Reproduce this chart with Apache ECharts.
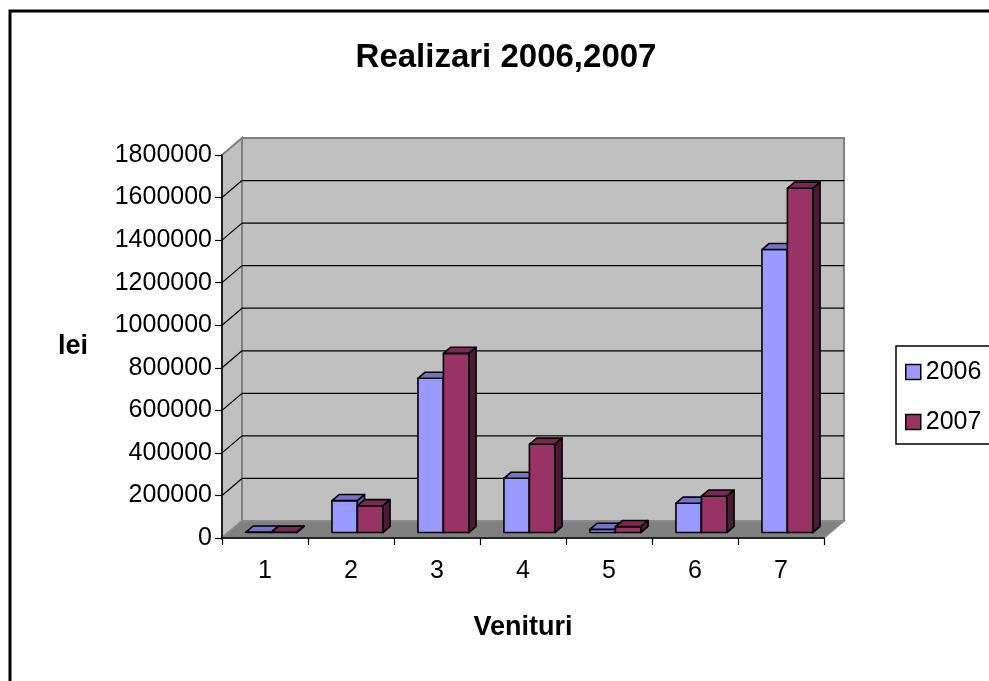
<!DOCTYPE html>
<html>
<head>
<meta charset="utf-8">
<title>Realizari 2006,2007</title>
<script src="https://cdn.jsdelivr.net/npm/echarts@6/dist/echarts.min.js"></script>
<style>
  html, body { margin: 0; padding: 0; background: #fff; }
  #chart { width: 989px; height: 681px; }
</style>
</head>
<body>
<div id="chart"></div>
<script>
const categories = ['1', '2', '3', '4', '5', '6', '7'];
const seriesNames = ['2006', '2007'];
const values2006 = [2000, 150000, 725000, 255000, 15000, 138000, 1330000];
const values2007 = [1500, 126000, 842000, 415000, 28000, 171000, 1618000];
const gridValues = [200000, 400000, 600000, 800000, 1000000, 1200000, 1400000, 1600000];

const FONT = '"Liberation Sans", Arial, sans-serif';
// depth of the 3D floor in pixels
const DX = 20;
const DY = 17;
// bars sit between these depth fractions
const F0 = 0.32;
const F1 = 0.68;

const faceColors = [
  { front: '#9999FF', top: '#7373C8', side: '#5C5C99' },
  { front: '#993366', top: '#7A2952', side: '#4D1A33' },
];

const chart = echarts.init(document.getElementById('chart'));

function renderWalls(params, api) {
  const cs = params.coordSys;
  const x0 = cs.x, x1 = cs.x + cs.width;
  const top = cs.y, bot = cs.y + cs.height;
  const wallStyle = { fill: '#C0C0C0', stroke: '#808080', lineWidth: 2 };
  return {
    type: 'group',
    children: [
      {
        type: 'polygon',
        shape: { points: [[x0 + DX, top - DY], [x1 + DX, top - DY], [x1 + DX, bot - DY], [x0 + DX, bot - DY]] },
        style: wallStyle,
      },
      {
        type: 'polygon',
        shape: { points: [[x0, top], [x0 + DX, top - DY], [x0 + DX, bot - DY], [x0, bot]] },
        style: wallStyle,
      },
      {
        type: 'polygon',
        shape: { points: [[x0, bot], [x0 + DX, bot - DY], [x1 + DX, bot - DY], [x1, bot]] },
        style: { fill: '#808080', stroke: '#8C8C8C', lineWidth: 1.5 },
      },
    ],
  };
}

function renderGridLine(params, api) {
  const cs = params.coordSys;
  const x0 = cs.x, x1 = cs.x + cs.width;
  const y = api.coord([0, api.value(0)])[1];
  const style = { stroke: '#000', lineWidth: 1.2 };
  return {
    type: 'group',
    children: [
      { type: 'line', shape: { x1: x0 + DX, y1: y - DY, x2: x1 + DX, y2: y - DY }, style },
      { type: 'line', shape: { x1: x0, y1: y, x2: x0 + DX, y2: y - DY }, style },
    ],
  };
}

function makeBarRenderer(seriesIdx) {
  const c = faceColors[seriesIdx];
  return function (params, api) {
    const idx = api.value(0);
    const topPt = api.coord([idx, api.value(1)]);
    const basePt = api.coord([idx, 0]);
    const band = api.size([1, 0])[0];
    const w = band * 0.296;
    const xa = topPt[0] - w + seriesIdx * w;
    const xb = xa + w;
    const yt = topPt[1], yb = basePt[1];
    const fx = F0 * DX, fy = F0 * DY, bx = F1 * DX, by = F1 * DY;
    const stroke = { stroke: '#000', lineWidth: 1.6, lineJoin: 'round' };
    return {
      type: 'group',
      children: [
        {
          type: 'polygon',
          shape: { points: [[xa + fx, yt - fy], [xb + fx, yt - fy], [xb + fx, yb - fy], [xa + fx, yb - fy]] },
          style: Object.assign({ fill: c.front }, stroke),
        },
        {
          type: 'polygon',
          shape: { points: [[xa + fx, yt - fy], [xb + fx, yt - fy], [xb + bx, yt - by], [xa + bx, yt - by]] },
          style: Object.assign({ fill: c.top }, stroke),
        },
        {
          type: 'polygon',
          shape: { points: [[xb + fx, yt - fy], [xb + bx, yt - by], [xb + bx, yb - by], [xb + fx, yb - fy]] },
          style: Object.assign({ fill: c.side }, stroke),
        },
      ],
    };
  };
}

const option = {
  animation: false,
  backgroundColor: '#fff',
  title: {
    text: 'Realizari 2006,2007',
    left: 506,
    top: 41,
    padding: 0,
    textAlign: 'center',
    textStyle: { fontSize: 33, fontWeight: 'bold', color: '#000', fontFamily: FONT },
  },
  legend: {
    data: seriesNames,
    orient: 'vertical',
    left: 896,
    top: 346,
    padding: [12, 0, 8, 9],
    itemGap: 22,
    itemWidth: 15,
    itemHeight: 15,
    icon: 'rect',
    itemStyle: { borderColor: '#000', borderWidth: 1.5 },
    textStyle: { fontSize: 25, color: '#000', fontFamily: FONT, lineHeight: 28 },
  },
  graphic: [
    {
      // outer chart frame (runs past the right and bottom edges)
      type: 'rect',
      silent: true,
      z: -10,
      shape: { x: 10, y: 11, width: 1200, height: 900 },
      style: { fill: 'none', stroke: '#000', lineWidth: 3 },
    },
    {
      // legend frame, cut off at the right edge like the original
      type: 'rect',
      silent: true,
      z: -5,
      shape: { x: 896, y: 346, width: 200, height: 98 },
      style: { fill: '#fff', stroke: '#000', lineWidth: 1.5 },
    },
  ],
  grid: { left: 222, right: 165, top: 155, bottom: 143 },
  xAxis: {
    type: 'category',
    data: categories,
    z: 10,
    name: 'Venituri',
    nameLocation: 'middle',
    nameGap: 76,
    nameTextStyle: { fontSize: 27, fontWeight: 'bold', color: '#000', fontFamily: FONT },
    axisLine: { lineStyle: { color: '#000', width: 1.5 } },
    axisTick: { show: true, interval: 0, length: 7, lineStyle: { color: '#000', width: 1.2 } },
    axisLabel: { fontSize: 25, color: '#000', margin: 21, fontFamily: FONT },
    splitLine: { show: false },
  },
  yAxis: {
    type: 'value',
    min: 0,
    max: 1800000,
    interval: 200000,
    z: 10,
    name: 'lei',
    nameLocation: 'middle',
    nameRotate: 0,
    nameGap: 134,
    nameTextStyle: { fontSize: 27, fontWeight: 'bold', color: '#000', fontFamily: FONT },
    axisLine: { show: true, lineStyle: { color: '#000', width: 1.5 } },
    axisTick: { show: true, length: 7, lineStyle: { color: '#000', width: 1.2 } },
    axisLabel: { fontSize: 25, color: '#000', margin: 10, fontFamily: FONT, formatter: (v) => String(v) },
    splitLine: { show: false },
  },
  series: [
    {
      name: 'walls',
      type: 'custom',
      silent: true,
      z: 1,
      renderItem: renderWalls,
      data: [[0, 0]],
    },
    {
      name: 'grid',
      type: 'custom',
      silent: true,
      z: 2,
      renderItem: renderGridLine,
      data: gridValues.map((v) => [v]),
      encode: { y: 0 },
    },
    {
      name: '2006',
      type: 'custom',
      z: 3,
      itemStyle: { color: faceColors[0].front },
      renderItem: makeBarRenderer(0),
      data: values2006.map((v, i) => [i, v]),
      encode: { x: 0, y: 1 },
    },
    {
      name: '2007',
      type: 'custom',
      z: 4,
      itemStyle: { color: faceColors[1].front },
      renderItem: makeBarRenderer(1),
      data: values2007.map((v, i) => [i, v]),
      encode: { x: 0, y: 1 },
    },
  ],
};

chart.setOption(option);
</script>
</body>
</html>
